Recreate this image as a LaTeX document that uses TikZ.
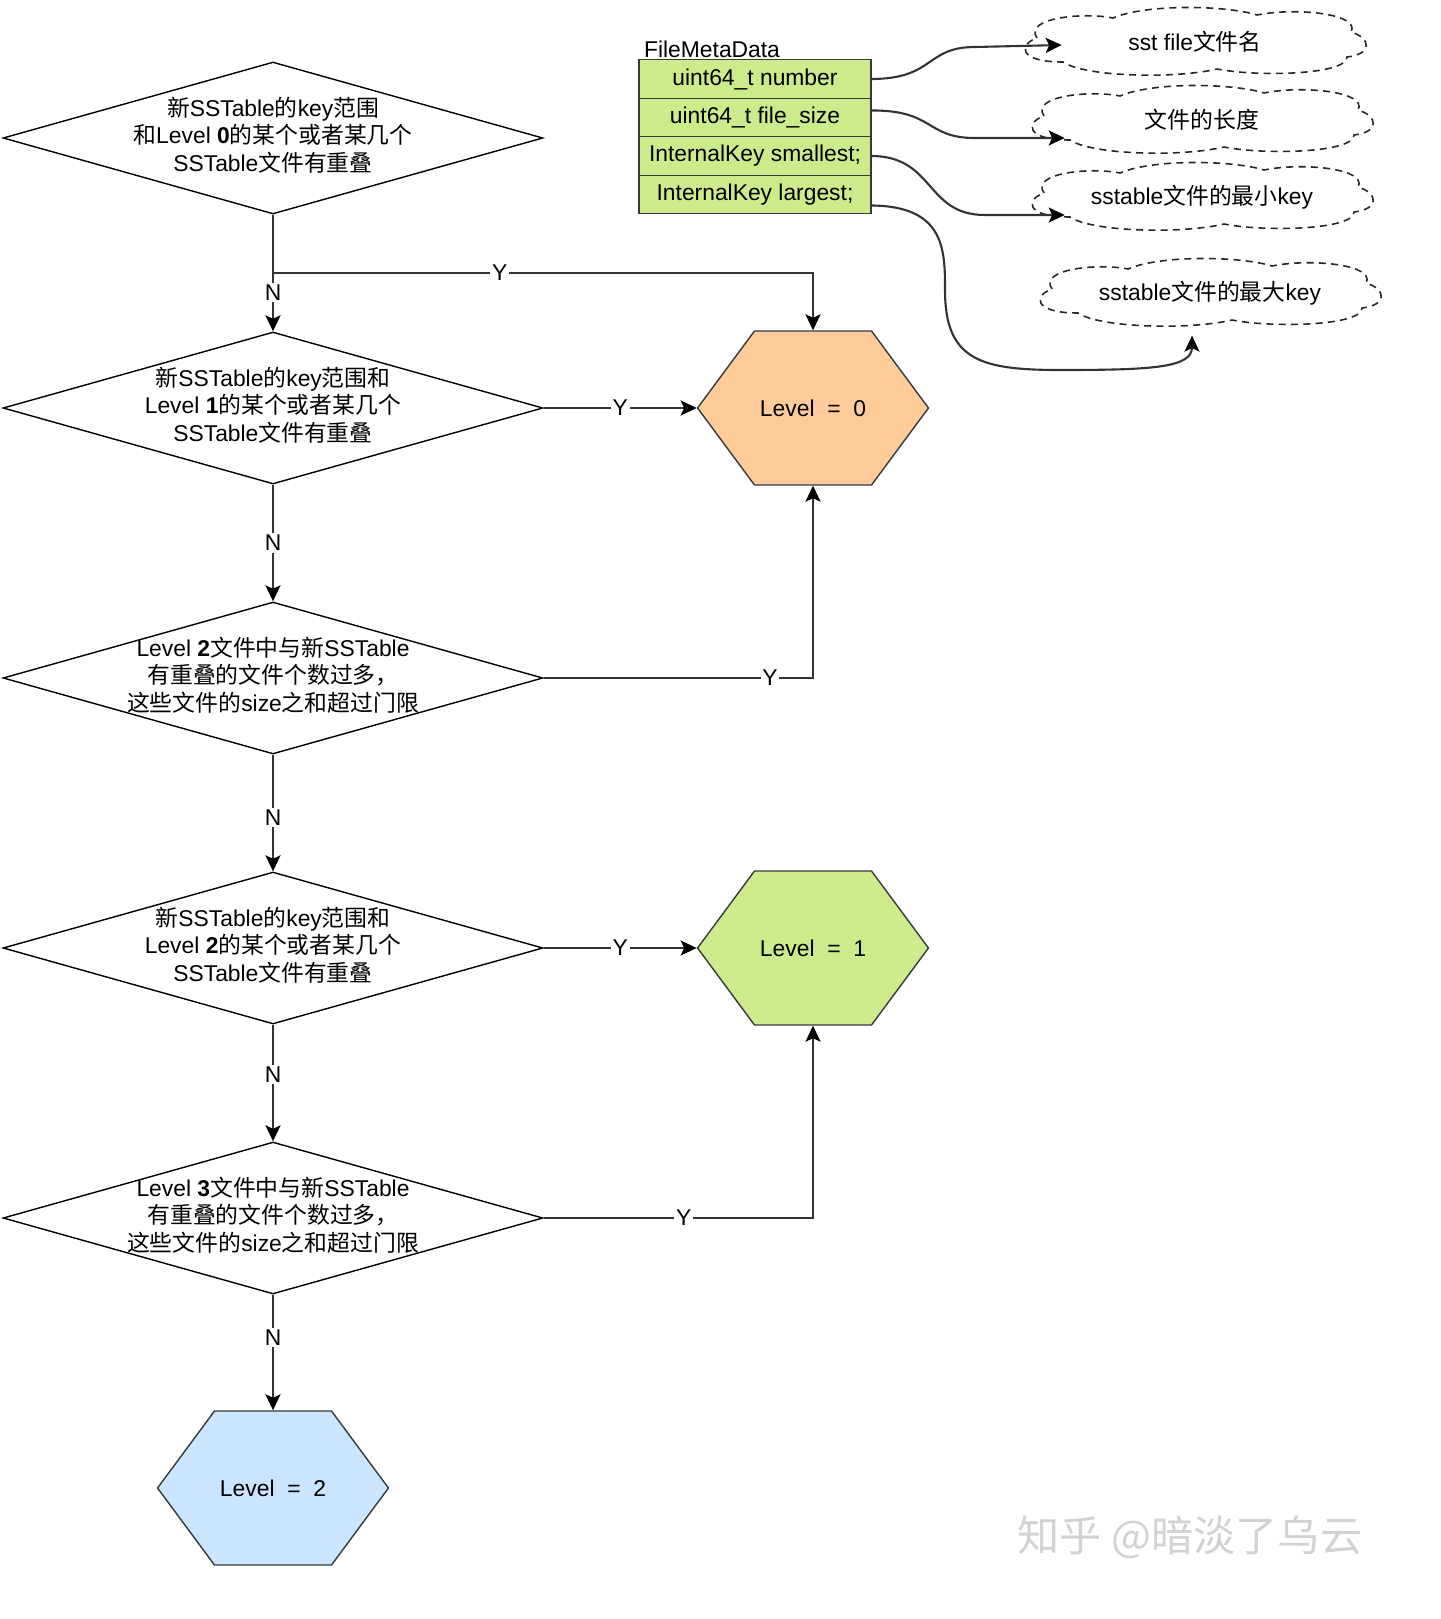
\documentclass[tikz,border=0pt]{standalone}
\usepackage{fontspec}
\setmainfont{Liberation Sans}
\newfontfamily\cjk{Noto Sans CJK SC}
\usetikzlibrary{positioning, shapes.geometric, shapes.symbols, arrows.meta, calc}

\definecolor{edgegray}{HTML}{333333}
\definecolor{shapeborder}{HTML}{36393D}
\definecolor{levelorange}{HTML}{FFCC99}
\definecolor{levelgreen}{HTML}{CDEB8B}
\definecolor{levelblue}{HTML}{CCE5FF}

\newcommand{\zw}[1]{{\cjk #1}}
\newcommand{\dtext}[1]{\makebox[0pt]{\begin{tabular}{@{}c@{}}#1\end{tabular}}}

\begin{document}
\begin{tikzpicture}[x=0.02cm, y=-0.02cm, font=\fontsize{13}{15.4}\selectfont,
    decision/.style={diamond, draw=black, line width=0.8pt, minimum width=10.8cm, minimum height=3.04cm, inner sep=0pt},
    levelhex/.style={signal, signal to=west and east, signal pointer angle=107, draw=shapeborder, line width=0.8pt, minimum width=4.62cm, minimum height=3.08cm, inner sep=0pt},
    fieldrow/.style={rectangle, draw=shapeborder, fill=levelgreen, line width=0.8pt, minimum width=4.64cm, minimum height=0.77cm, inner sep=0pt, outer sep=0pt},
    note/.style={ellipse, minimum width=6.6cm, minimum height=1.25cm, inner sep=0pt},
    noteline/.style={draw=black!85, line width=0.9pt, dash pattern=on 4pt off 3pt},
    flow/.style={draw=edgegray, line width=1.2pt, -{Stealth[length=3.2mm, width=3mm, inset=0.7mm, color=black]}},
    yn/.style={fill=white, inner sep=1pt}]
\useasboundingbox (0,0) rectangle (1440,1619);

% decisions
\node[decision] (D0) at (273,138) {\dtext{\zw{新}SSTable\zw{的}key\zw{范围}\\ \zw{和}Level \textbf{0}\zw{的某个或者某几个}\\ SSTable\zw{文件有重叠}}};
\node[decision] (D1) at (273,408) {\dtext{\zw{新}SSTable\zw{的}key\zw{范围和}\\ Level \textbf{1}\zw{的某个或者某几个}\\ SSTable\zw{文件有重叠}}};
\node[decision] (D2) at (273,678) {\dtext{Level \textbf{2}\zw{文件中与新}SSTable\\ \zw{有重叠的文件个数过多，}\\ \zw{这些文件的}size\zw{之和超过门限}}};
\node[decision] (D3) at (273,948) {\dtext{\zw{新}SSTable\zw{的}key\zw{范围和}\\ Level \textbf{2}\zw{的某个或者某几个}\\ SSTable\zw{文件有重叠}}};
\node[decision] (D4) at (273,1218) {\dtext{Level \textbf{3}\zw{文件中与新}SSTable\\ \zw{有重叠的文件个数过多，}\\ \zw{这些文件的}size\zw{之和超过门限}}};

% results
\node[levelhex, fill=levelorange] (L0) at (813,408) {Level~~=~~0};
\node[levelhex, fill=levelgreen] (L1) at (813,948) {Level~~=~~1};
\node[levelhex, fill=levelblue] (L2) at (273,1488) {Level~~=~~2};

% FileMetaData table
\node[fieldrow] (r1) at (755,79) {uint64\_t number};
\node[fieldrow, below=0pt of r1] (r2) {uint64\_t file\_size};
\node[fieldrow, below=0pt of r2] (r3) {InternalKey smallest;};
\node[fieldrow, below=0pt of r3] (r4) {InternalKey largest;};
\node[anchor=south west, inner sep=1pt, xshift=0.06cm] (fmd) at (r1.north west) {FileMetaData};

% notes
\node[note] (c1) at (1195,42) {sst file\zw{文件名}};
\node[note] (c2) at (1202,120) {\zw{文件的长度}};
\node[note] (c3) at (1202,197) {sstable\zw{文件的最小}key};
\node[note] (c4) at (1210,293) {sstable\zw{文件的最大}key};
\foreach \c in {c1,c2,c3,c4}
  \draw[noteline, shift={(\c.center)}] (-158,-4) .. controls (-172,-24) and (-112,-30) .. (-82,-24)
    .. controls (-50,-38) and (30,-37) .. (62,-27) .. controls (102,-35) and (166,-28) .. (156,-10)
    .. controls (176,-4) and (178,12) .. (152,15) .. controls (152,33) and (62,35) .. (22,27)
    .. controls (-20,37) and (-110,35) .. (-132,20) .. controls (-178,20) and (-176,2) .. cycle;

% flow
\draw[flow] (D0.south) -- node[yn, pos=0.67] {N} (D1.north);
\draw[flow] (D0.south) -- ++(0,58) -| node[yn, pos=0.21] {Y} (L0.north);
\draw[flow] (D1.east) -- node[yn] {Y} (L0.west);
\draw[flow] (D1.south) -- node[yn] {N} (D2.north);
\draw[flow] (D2.east) -| node[yn, pos=0.42] {Y} (L0.south);
\draw[flow] (D2.south) -- node[yn, pos=0.54] {N} (D3.north);
\draw[flow] (D3.east) -- node[yn] {Y} (L1.west);
\draw[flow] (D3.south) -- node[yn, pos=0.43] {N} (D4.north);
\draw[flow] (D4.east) -| node[yn, pos=0.26] {Y} (L1.south);
\draw[flow] (D4.south) -- node[yn, pos=0.37] {N} (L2.north);

% fields to notes
\draw[flow] (r1.east) .. controls (935,79) and (925,47) .. (975,47) -- ($(c1.west)+(32,3)$);
\draw[flow] ([yshift=0.14cm]r2.east) .. controls (935,110) and (925,138) .. (975,138) -- ($(c2.west)+(28,18)$);
\draw[flow] (r3.east) .. controls (935,156) and (925,215) .. (985,215) -- ($(c3.west)+(28,18)$);
\draw[flow] ([yshift=-0.22cm]r4.east) .. controls (945,206) and (945,250) .. (945,290)
  .. controls (945,360) and (980,370) .. (1060,370) .. controls (1150,370) and (1192,368) .. ($(c4.south)+(-18,11)$);

% watermark
\node[text=gray!35, font=\fontsize{24}{24}\selectfont\cjk] (wm) at (1190,1537) {知乎 @暗淡了乌云};
\end{tikzpicture}
\end{document}
